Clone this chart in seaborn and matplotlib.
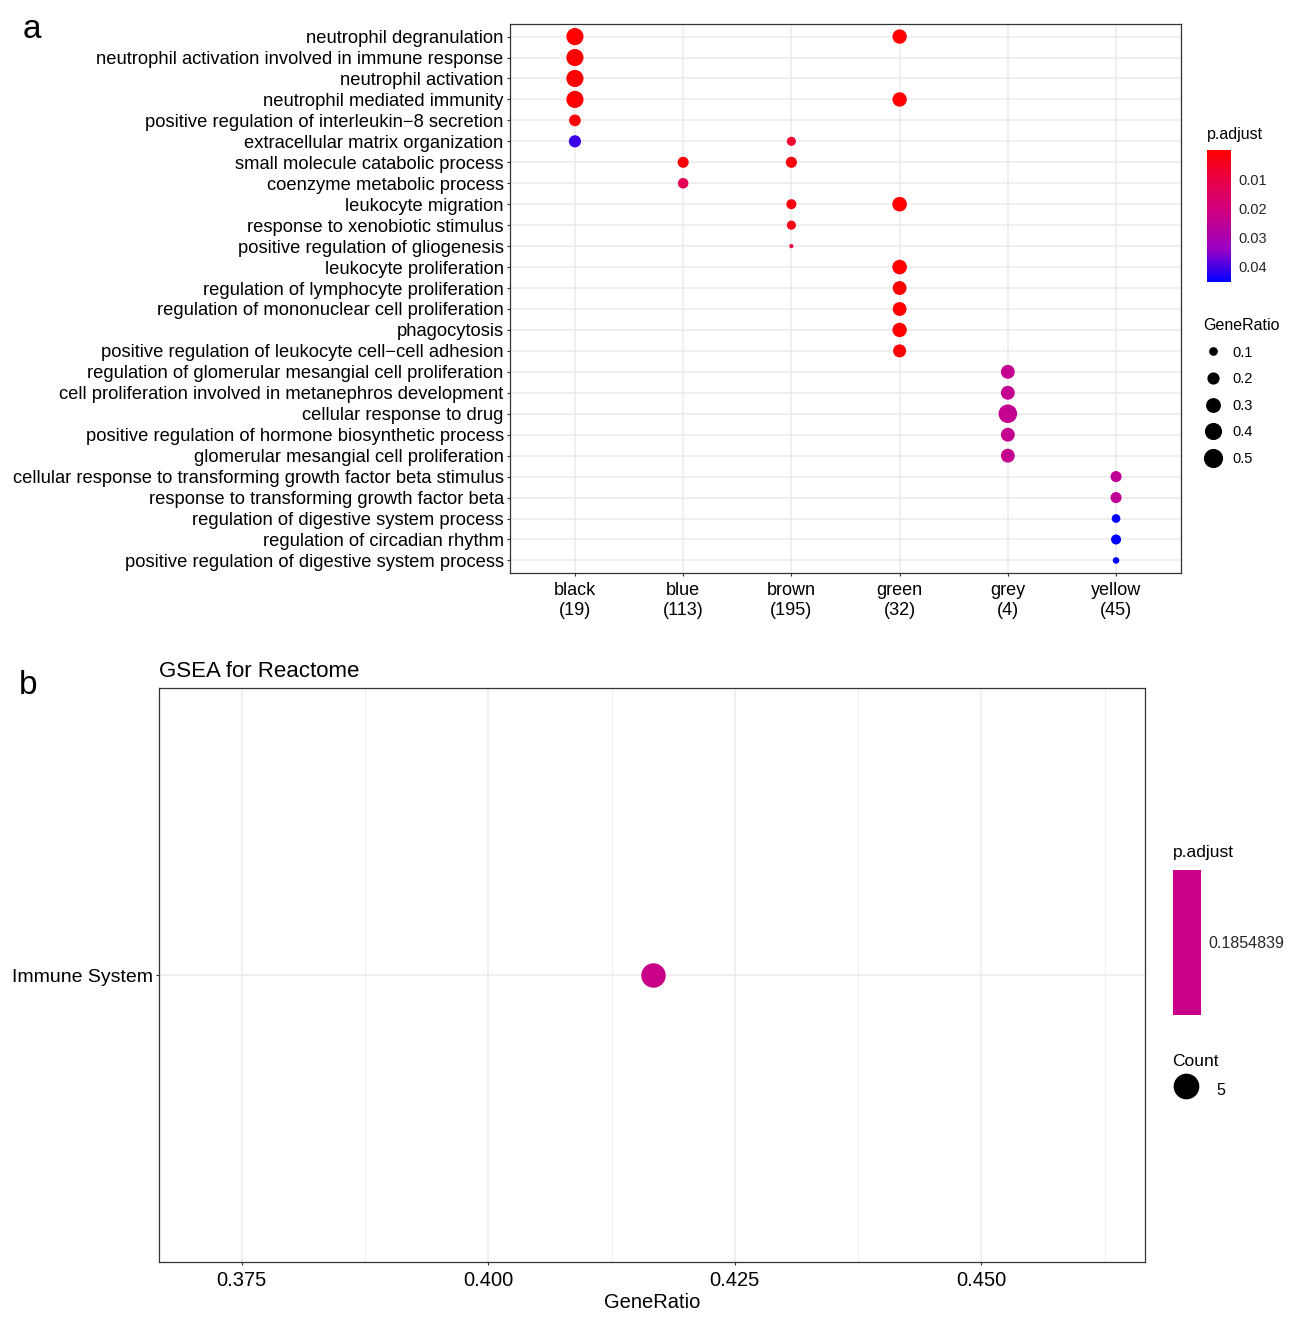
import numpy as np
import pandas as pd
import matplotlib
matplotlib.use("Agg")
import matplotlib as mpl
import matplotlib.pyplot as plt
import seaborn as sns
from matplotlib.colors import LinearSegmentedColormap, ListedColormap, Normalize
from matplotlib.lines import Line2D

# ---------------- panel a data ----------------
terms = [
    "neutrophil degranulation",
    "neutrophil activation involved in immune response",
    "neutrophil activation",
    "neutrophil mediated immunity",
    "positive regulation of interleukin\u22128 secretion",
    "extracellular matrix organization",
    "small molecule catabolic process",
    "coenzyme metabolic process",
    "leukocyte migration",
    "response to xenobiotic stimulus",
    "positive regulation of gliogenesis",
    "leukocyte proliferation",
    "regulation of lymphocyte proliferation",
    "regulation of mononuclear cell proliferation",
    "phagocytosis",
    "positive regulation of leukocyte cell\u2212cell adhesion",
    "regulation of glomerular mesangial cell proliferation",
    "cell proliferation involved in metanephros development",
    "cellular response to drug",
    "positive regulation of hormone biosynthetic process",
    "glomerular mesangial cell proliferation",
    "cellular response to transforming growth factor beta stimulus",
    "response to transforming growth factor beta",
    "regulation of digestive system process",
    "regulation of circadian rhythm",
    "positive regulation of digestive system process",
]
modules = ["black\n(19)", "blue\n(113)", "brown\n(195)", "green\n(32)", "grey\n(4)", "yellow\n(45)"]

dot_term = [0, 0, 1, 2, 3, 3, 4, 5, 5, 6, 6, 7, 8, 8, 9, 10,
            11, 12, 13, 14, 15, 16, 17, 18, 19, 20, 21, 22, 23, 24, 25]
dot_module = [0, 3, 0, 0, 0, 3, 0, 0, 2, 1, 2, 1, 2, 3, 2, 2,
              3, 3, 3, 3, 3, 4, 4, 4, 4, 4, 5, 5, 5, 5, 5]
dot_ratio = [0.40, 0.28, 0.40, 0.40, 0.40, 0.28, 0.185, 0.20, 0.11, 0.165, 0.165, 0.15,
             0.135, 0.29, 0.11, 0.02, 0.29, 0.26, 0.26, 0.28, 0.23,
             0.26, 0.26, 0.47, 0.26, 0.26, 0.165, 0.165, 0.10, 0.135, 0.055]
dot_padj = [0.0002, 0.0004, 0.0002, 0.0002, 0.0002, 0.0004, 0.0008, 0.041, 0.007, 0.0015,
            0.0015, 0.013, 0.002, 0.0004, 0.003, 0.010, 0.0004, 0.0004, 0.0004, 0.0004,
            0.0004, 0.024, 0.024, 0.024, 0.024, 0.024, 0.025, 0.025, 0.0455, 0.0455, 0.0455]

padj_ticks = [0.01, 0.02, 0.03, 0.04]
size_ticks = [0.1, 0.2, 0.3, 0.4, 0.5]

# ---------------- panel b data ----------------
b_terms = ["Immune System"]
b_ratio = [0.4167]
b_count = [5]
b_padj = [0.1854839]
b_xticks = [0.375, 0.400, 0.425, 0.450]

# ---------------- style ----------------
sns.set_style("white")
plt.rcParams["font.family"] = ["Liberation Sans", "DejaVu Sans"]
plt.rcParams["text.color"] = "black"
plt.rcParams["axes.labelcolor"] = "black"
plt.rcParams["axes.titlecolor"] = "black"

# red -> blue gradient (Lab-like interpolation)
cmap = LinearSegmentedColormap.from_list(
    "padj", ["#FF0000", "#E8004F", "#C90088", "#9A00C3", "#0000FF"])
pnorm = Normalize(0.0, 0.0455)
size_range = (9.0, 190.0)
size_norm = (0.02, 0.5)

W, H = 1298, 1328
fig = plt.figure(figsize=(W / 100, H / 100), dpi=100)


def fx(px):
    return px / W


def fy(py):
    return 1 - py / H


grid_col = "#EBEBEB"
frame_col = "#333333"

# ---------------- panel a ----------------
ax_a = fig.add_axes([fx(510), fy(573), fx(1181) - fx(510), fy(24) - fy(573)])
df_a = pd.DataFrame({
    "Description": pd.Categorical([terms[i] for i in dot_term], categories=terms),
    "Cluster": pd.Categorical([modules[j] for j in dot_module], categories=modules),
    "GeneRatio": dot_ratio,
    "p.adjust": dot_padj,
})
sns.scatterplot(data=df_a, x="Cluster", y="Description", hue="p.adjust", palette=cmap,
                hue_norm=pnorm, size="GeneRatio", sizes=size_range, size_norm=size_norm,
                linewidth=0, legend=False, ax=ax_a, zorder=3)
ax_a.set_xlim(-0.6, len(modules) - 0.4)
ax_a.set_ylim(len(terms) - 0.4, -0.6)
ax_a.set_xlabel("")
ax_a.set_ylabel("")
ax_a.grid(True, color=grid_col, linewidth=1.1, zorder=0)
ax_a.set_axisbelow(True)
for s in ax_a.spines.values():
    s.set_color(frame_col)
    s.set_linewidth(0.9)
ax_a.tick_params(axis="both", which="major", length=2.5, width=0.8, color=frame_col,
                 labelsize=13.2, labelcolor="black", pad=2, bottom=True, left=True)
ax_a.tick_params(axis="x", pad=4, labelsize=13)

# colorbar a
cax_a = fig.add_axes([fx(1207), fy(282), fx(1231) - fx(1207), fy(150) - fy(282)])
cb_a = mpl.colorbar.ColorbarBase(cax_a, cmap=cmap, norm=pnorm, ticks=padj_ticks)
cb_a.outline.set_visible(False)
cax_a.invert_yaxis()
cax_a.tick_params(direction="in", length=4.5, width=0.8, color="white", left=True, right=True,
                  labelleft=False, labelright=True, labelsize=10.5, pad=5)
fig.text(fx(1207), fy(135), "p.adjust", fontsize=11.5, va="center", ha="left")


def ratio_to_ms(r):
    s = size_range[0] + (size_range[1] - size_range[0]) * (r - size_norm[0]) / (size_norm[1] - size_norm[0])
    return np.sqrt(s)


size_handles = [Line2D([], [], marker="o", linestyle="", color="black", markeredgewidth=0,
                       markersize=ratio_to_ms(r)) for r in size_ticks]
fig.legend(size_handles, [f"{r:.1f}" for r in size_ticks], title="GeneRatio",
           loc="upper left", bbox_to_anchor=(fx(1203), fy(318)), frameon=False,
           fontsize=10.5, title_fontsize=11.5, alignment="left", handletextpad=0.6,
           labelspacing=0.86, borderpad=0, borderaxespad=0, handlelength=1.4)

# ---------------- panel b ----------------
ax_b = fig.add_axes([fx(159), fy(1262), fx(1145) - fx(159), fy(688) - fy(1262)])
mid_col = cmap(0.5)
sns.scatterplot(x=b_ratio, y=b_terms, size=b_count, sizes={5: 310}, color=mid_col,
                linewidth=0, legend=False, ax=ax_b, zorder=3)
ax_b.set_xlim(0.3666, 0.4666)
ax_b.set_ylim(-0.6, 0.6)
ax_b.set_xticks(b_xticks)
ax_b.set_xticklabels([f"{v:.3f}" for v in b_xticks])
ax_b.set_xticks([0.3875, 0.4125, 0.4375, 0.4625], minor=True)
ax_b.grid(True, which="major", color=grid_col, linewidth=1.1, zorder=0)
ax_b.grid(True, which="minor", axis="x", color=grid_col, linewidth=0.6, zorder=0)
ax_b.set_axisbelow(True)
for s in ax_b.spines.values():
    s.set_color(frame_col)
    s.set_linewidth(0.9)
ax_b.tick_params(axis="both", which="major", length=2.5, width=0.8, color=frame_col,
                 labelsize=14.5, labelcolor="black", pad=4, bottom=True, left=True)
ax_b.tick_params(axis="x", which="minor", length=0)
ax_b.tick_params(axis="y", labelsize=14, pad=2)
ax_b.set_xlabel("GeneRatio", fontsize=14.5, labelpad=2)
ax_b.set_ylabel("")
ax_b.set_title("GSEA for Reactome", loc="left", fontsize=16, pad=8)

# colorbar b
cax_b = fig.add_axes([fx(1173), fy(1015), fx(1201) - fx(1173), fy(870) - fy(1015)])
bnorm = Normalize(b_padj[0] - 0.005, b_padj[0] + 0.005)
cb_b = mpl.colorbar.ColorbarBase(cax_b, cmap=ListedColormap([mid_col]), norm=bnorm, ticks=b_padj)
cb_b.outline.set_visible(False)
cb_b.set_ticklabels([f"{v:.7f}" for v in b_padj])
cax_b.tick_params(direction="in", length=4.5, width=0.8, color="white", left=True, right=True,
                  labelleft=False, labelright=True, labelsize=11.5, pad=5)
fig.text(fx(1173), fy(853), "p.adjust", fontsize=12.5, va="center", ha="left")

count_handles = [Line2D([], [], marker="o", linestyle="", color="black", markeredgewidth=0,
                        markersize=18.5)]
fig.legend(count_handles, [str(c) for c in b_count], title="Count",
           loc="upper left", bbox_to_anchor=(fx(1172), fy(1054)), frameon=False,
           fontsize=11.5, title_fontsize=12.5, alignment="left", handletextpad=1.0,
           borderpad=0, borderaxespad=0, handlelength=1.8, handleheight=2.2)

# panel letters
fig.text(fx(32), fy(30), "a", fontsize=24, ha="center", va="center")
fig.text(fx(28), fy(685), "b", fontsize=24, ha="center", va="center")

fig.savefig("out.png", dpi=100)
